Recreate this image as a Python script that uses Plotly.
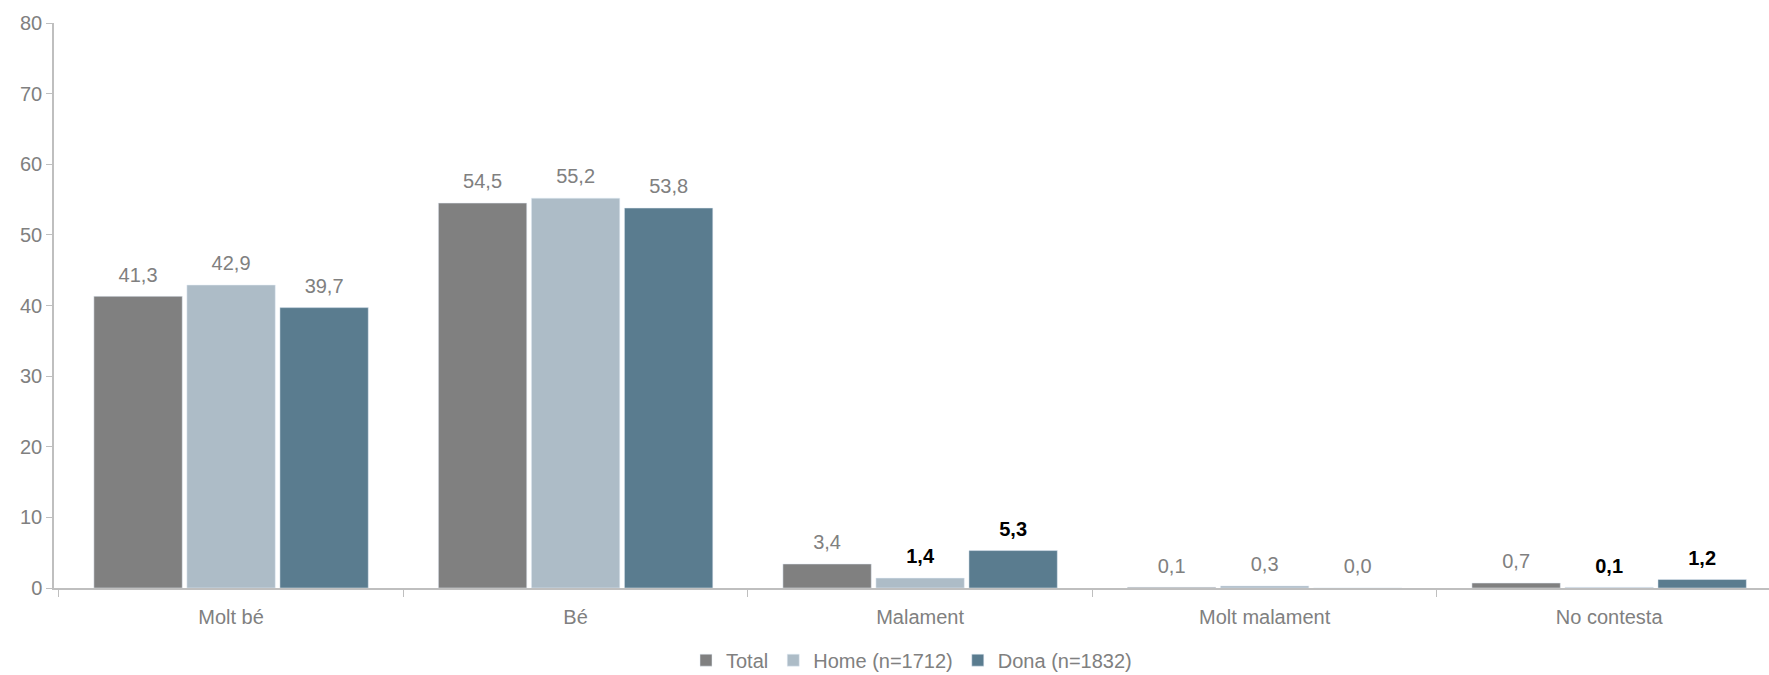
import plotly.graph_objects as go

categories = ["Molt bé", "Bé", "Malament", "Molt malament", "No contesta"]
total = [41.3, 54.5, 3.4, 0.1, 0.7]
home = [42.9, 55.2, 1.4, 0.3, 0.1]
dona = [39.7, 53.8, 5.3, 0.0, 1.2]
series_names = ["Total", "Home (n=1712)", "Dona (n=1832)"]
colors = ["#808080", "#ADBCC7", "#5A7C8F"]
# which labels are highlighted (bold black)
bold = [
    [False, False, False, False, False],
    [False, False, True, False, True],
    [False, False, True, False, True],
]

FONT = "Liberation Sans, Arial, sans-serif"
fig = go.Figure()
for i, (name, vals, col) in enumerate(zip(series_names, [total, home, dona], colors)):
    fig.add_trace(go.Bar(
        x=categories, y=vals, name=name, marker_color=col,
        offsetgroup=str(i), alignmentgroup="a", hoverinfo="skip",
    ))
for i, (vals, bf) in enumerate(zip([total, home, dona], bold)):
    texts, tcolors = [], []
    for v, b in zip(vals, bf):
        s = f"{v:.1f}".replace(".", ",")
        texts.append(f"<b>{s}</b>" if b else s)
        tcolors.append("#000000" if b else "#808080")
    fig.add_trace(go.Scatter(
        x=categories, y=vals, mode="markers+text", text=texts,
        textposition="top center", cliponaxis=False,
        marker=dict(size=14, color="rgba(0,0,0,0)"),
        textfont=dict(color=tcolors, size=20, family=FONT),
        offsetgroup=str(i), alignmentgroup="a", showlegend=False, hoverinfo="skip",
    ))

fig.update_layout(
    width=1769, height=675,
    barmode="group", scattermode="group", bargap=0.19, bargroupgap=0.05,
    plot_bgcolor="white", paper_bgcolor="white",
    font=dict(family=FONT, size=20, color="#808080"),
    margin=dict(l=54, r=0, t=23, b=87, autoexpand=False),
    legend=dict(orientation="h", x=0.5, xanchor="center", yref="container",
                y=0.022, yanchor="middle",
                font=dict(size=20, color="#808080"), itemwidth=30),
)
fig.update_yaxes(range=[0, 80], dtick=10, showgrid=False, zeroline=False,
                 showline=True, linecolor="#BFBFBF", linewidth=1.5,
                 ticks="outside", ticklen=6, tickcolor="#BFBFBF",
                 tickfont=dict(size=20, color="#808080"))
fig.update_xaxes(range=[-0.514, 4.464], showgrid=False, showline=True,
                 linecolor="#BFBFBF", linewidth=1.5,
                 ticks="outside", tickson="boundaries", ticklen=7, tickcolor="#BFBFBF",
                 ticklabelstandoff=10,
                 tickfont=dict(size=20, color="#808080"))

fig.write_html("out.html", config={"displayModeBar": False},
               post_script="document.body.style.margin='0';document.body.style.overflow='hidden';")
